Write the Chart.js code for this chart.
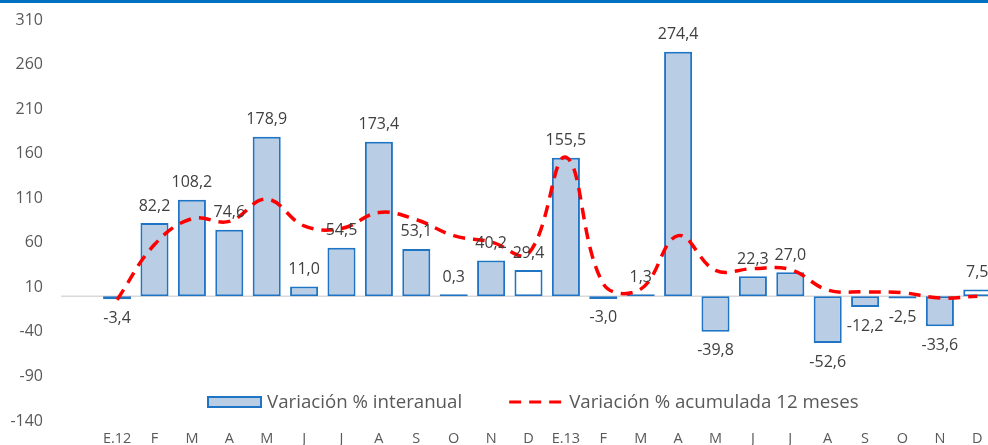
<!DOCTYPE html>
<html>
<head>
<meta charset="utf-8">
<script src="https://cdn.jsdelivr.net/npm/chart.js@4/dist/chart.umd.min.js"></script>
<style>
  html, body { margin: 0; padding: 0; background: #fff; overflow: hidden; }
  #wrap { width: 1000px; height: 442px; border-top: 3px solid #0070C0; }
</style>
</head>
<body>
<div id="wrap"><canvas id="chart" width="1000" height="442"></canvas></div>
<script>
// meses (primera categoría vacía, como en el original)
const labels = ['', 'E.12', 'F', 'M', 'A', 'M', 'J', 'J', 'A', 'S', 'O', 'N', 'D',
  'E.13', 'F', 'M', 'A', 'M', 'J', 'J', 'A', 'S', 'O', 'N', 'D'];

// Variación % interanual
const interanual = [null, -3.4, 82.2, 108.2, 74.6, 178.9, 11.0, 54.5, 173.4, 53.1, 0.3, 40.2, 29.4,
  155.5, -3.0, 1.3, 274.4, -39.8, 22.3, 27.0, -52.6, -12.2, -2.5, -33.6, 7.5];

// Variación % acumulada 12 meses
const acumulada = [null, -4, 58, 87, 84, 109, 79, 76, 94, 86, 68, 61, 48,
  156, 14, 8, 68, 29, 31, 30, 7, 5, 4, -2, 0];

const yTicks = { min: -140, max: 310, step: 50 };

const barFill = '#B9CDE5';
const barBorder = '#1F74C4';
const fills = labels.map(l => (l === 'D' ? '#FFFFFF' : barFill));

const fmt = v => v.toFixed(1).replace('.', ',');

const zeroLine = {
  id: 'zeroLine',
  beforeDatasetsDraw(chart) {
    const { ctx, chartArea, scales } = chart;
    const y = scales.y.getPixelForValue(0);
    ctx.save();
    ctx.strokeStyle = '#D9D9D9';
    ctx.lineWidth = 1.5;
    ctx.beginPath();
    ctx.moveTo(chartArea.left, y);
    ctx.lineTo(chartArea.right, y);
    ctx.stroke();
    ctx.restore();
  },
};

const valueLabels = {
  id: 'valueLabels',
  afterDatasetsDraw(chart) {
    const { ctx } = chart;
    const meta = chart.getDatasetMeta(0);
    ctx.save();
    ctx.font = '16px "Open Sans"';
    ctx.fillStyle = '#404040';
    ctx.textAlign = 'center';
    ctx.textBaseline = 'middle';
    meta.data.forEach((bar, i) => {
      const v = interanual[i];
      if (v === null) return;
      const y = v >= 0 ? bar.y - 17 : bar.y + 19;
      ctx.fillText(fmt(v), bar.x, y);
    });
    ctx.restore();
  },
};

const legendBox = {
  id: 'legendBox',
  afterDraw(chart) {
    const { ctx } = chart;
    const y = chart.scales.y.getPixelForValue(-140) - 19;
    let x = 208;
    ctx.save();
    ctx.font = '18.7px "Open Sans"';
    ctx.textBaseline = 'middle';
    // barra
    ctx.fillStyle = barFill;
    ctx.fillRect(x, y - 5, 53, 10);
    ctx.strokeStyle = barBorder;
    ctx.lineWidth = 2;
    ctx.strokeRect(x, y - 5, 53, 10);
    x += 59;
    ctx.fillStyle = '#595959';
    const t1 = 'Variación % interanual';
    ctx.fillText(t1, x, y + 1);
    x += ctx.measureText(t1).width + 47;
    // línea discontinua
    ctx.strokeStyle = '#FF0000';
    ctx.lineWidth = 3;
    ctx.setLineDash([12, 8]);
    ctx.beginPath();
    ctx.moveTo(x, y);
    ctx.lineTo(x + 56, y);
    ctx.stroke();
    ctx.setLineDash([]);
    x += 60;
    ctx.fillText('Variación % acumulada 12 meses', x, y + 1);
    ctx.restore();
  },
};

new Chart('chart', {
  type: 'bar',
  data: {
    labels: labels,
    datasets: [
      {
        type: 'bar',
        label: 'Variación % interanual',
        data: interanual,
        backgroundColor: fills,
        borderColor: barBorder,
        borderWidth: 2,
        borderSkipped: false,
        barPercentage: 0.75,
        categoryPercentage: 1,
        minBarLength: 2,
        order: 2,
      },
      {
        type: 'line',
        label: 'Variación % acumulada 12 meses',
        data: acumulada,
        borderColor: '#FF0000',
        borderWidth: 3.5,
        borderDash: [12, 8],
        tension: 0.4,
        pointRadius: 0,
        fill: false,
        order: 1,
      },
    ],
  },
  options: {
    responsive: false,
    animation: false,
    layout: { padding: { top: 17, right: 4, left: 0, bottom: 0 } },
    plugins: {
      legend: { display: false },
      tooltip: { enabled: false },
    },
    scales: {
      x: {
        grid: { display: false, drawTicks: false },
        border: { display: false },
        ticks: {
          color: '#595959',
          font: { family: 'Open Sans', size: 14.5 },
          padding: 9,
          maxRotation: 0,
          autoSkip: false,
        },
        afterFit: s => { s.height = 24; },
      },
      y: {
        min: yTicks.min,
        max: yTicks.max,
        grid: { display: false, drawTicks: false },
        border: { display: false },
        ticks: {
          stepSize: yTicks.step,
          color: '#595959',
          font: { family: 'Open Sans', size: 16 },
          padding: 18,
        },
        afterFit: s => {
          s.width = 61;
          s.paddingTop = 0;
          s.paddingBottom = 0;
        },
      },
    },
  },
  plugins: [zeroLine, valueLabels, legendBox],
});
</script>
</body>
</html>
